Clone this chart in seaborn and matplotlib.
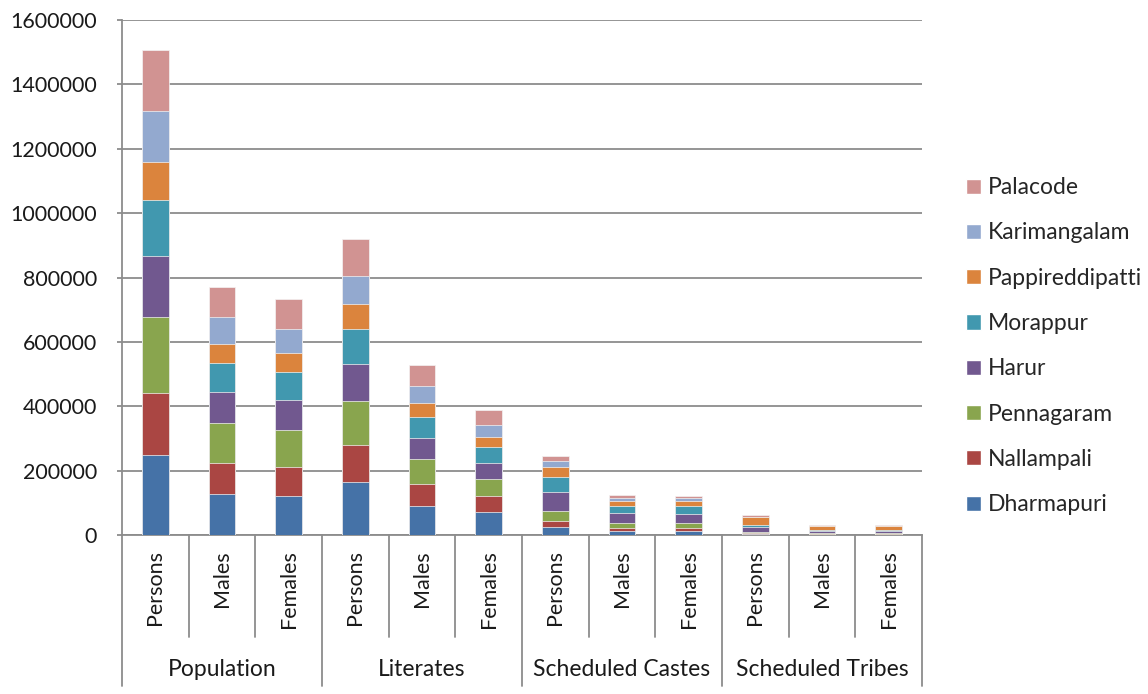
import pandas as pd
import numpy as np
import matplotlib
matplotlib.use("Agg")
import matplotlib.pyplot as plt
import seaborn as sns
from matplotlib.patches import Patch

groups = ["Population", "Literates", "Scheduled Castes", "Scheduled Tribes"]
sexes = ["Persons", "Males", "Females"]
districts = ["Dharmapuri", "Nallampali", "Pennagaram", "Harur",
             "Morappur", "Pappireddipatti", "Karimangalam", "Palacode"]

# values per district, 12 bars: (Population, Literates, SC, ST) x (Persons, Males, Females)
dharmapuri = [248000, 126000, 121000, 166000, 91000, 72000, 25000, 12400, 12400, 2000, 1000, 1000]
nallampali = [192000, 99000, 91000, 115000, 68000, 48000, 20000, 10000, 10000, 4000, 2000, 2000]
pennagaram = [237000, 123000, 114000, 134000, 78000, 55000, 30000, 15000, 15000, 4300, 2200, 2100]
harur = [190000, 97000, 94000, 116000, 65000, 50000, 59000, 30000, 29000, 15500, 7800, 7700]
morappur = [174000, 89000, 85000, 109000, 64000, 48000, 47500, 24000, 23500, 4000, 2000, 2000]
pappireddipatti = [119000, 60000, 59000, 77000, 43000, 32000, 29000, 14000, 14500, 25000, 12500, 12300]
karimangalam = [157000, 82000, 76000, 89000, 54000, 37000, 18700, 9500, 9000, 2000, 1000, 1000]
palacode = [191000, 96000, 93000, 113000, 64000, 46500, 15300, 8000, 7500, 4000, 2000, 2000]

values = [dharmapuri, nallampali, pennagaram, harur, morappur,
          pappireddipatti, karimangalam, palacode]
colors = ["#4572A7", "#AA4643", "#89A54E", "#71588F",
          "#4198AF", "#DB843D", "#93A9CF", "#D19392"]

keys = [g + "|" + s for g in groups for s in sexes]
df = pd.DataFrame(np.array(values).T, columns=districts)
df["key"] = keys
cum = df[districts].cumsum(axis=1)
cum["key"] = keys

sns.set_style("white")
plt.rcParams["font.family"] = ["Lato", "DejaVu Sans"]

fig = plt.figure(figsize=(11.48, 6.94), dpi=100)
ax = fig.add_axes([122 / 1148, 1 - 535 / 694, 800 / 1148, 515 / 694])

# stacked bars: draw cumulative totals from the top segment down
for d, c in reversed(list(zip(districts, colors))):
    sns.barplot(data=cum, x="key", y=d, order=keys, color=c, width=0.4,
                saturation=1, ax=ax, zorder=3, edgecolor="#f4f4f4", linewidth=0.5)

ax.set_xlim(-0.5, 11.5)
ax.set_ylim(0, 1600000)
ax.set_yticks(np.arange(0, 1600001, 200000))
ax.set_yticklabels([str(v) for v in range(0, 1600001, 200000)], fontsize=15.5, color="#1a1a1a")
ax.yaxis.grid(True, color="#8c8c8c", linewidth=1.3, zorder=0)
ax.set_xticks([])
ax.set_xlabel("")
ax.set_ylabel("")
for s in ["top", "right"]:
    ax.spines[s].set_visible(False)
for s in ["left", "bottom"]:
    ax.spines[s].set_color("#8c8c8c")
    ax.spines[s].set_linewidth(1.3)
ax.tick_params(axis="y", length=3.6, width=1.3, color="#8c8c8c", left=True, pad=14.5)

tr = ax.get_xaxis_transform()
h = 515.0
for i, k in enumerate(keys):
    ax.text(i, -15 / h, k.split("|")[1], rotation=90, ha="center", va="top",
            fontsize=15.5, color="#1a1a1a", transform=tr)
for j in range(13):
    x = j - 0.5
    bottom = -151 / h if j % 3 == 0 else -102 / h
    ax.plot([x, x], [0, bottom], color="#8c8c8c", lw=1.3, transform=tr, clip_on=False)
for gi, g in enumerate(groups):
    ax.text(gi * 3 + 1, -134 / h, g, ha="center", va="center",
            fontsize=16.5, color="#1a1a1a", transform=tr)

handles = [Patch(facecolor=c, label=d) for d, c in zip(districts, colors)][::-1]
fig.legend(handles=handles, loc="upper left", bbox_to_anchor=(957 / 1148, 1 - 168 / 694),
           frameon=False, fontsize=16.5, handlelength=0.64, handleheight=0.64,
           handletextpad=0.3, labelspacing=1.06, borderaxespad=0)

fig.savefig("out.png", dpi=100)
